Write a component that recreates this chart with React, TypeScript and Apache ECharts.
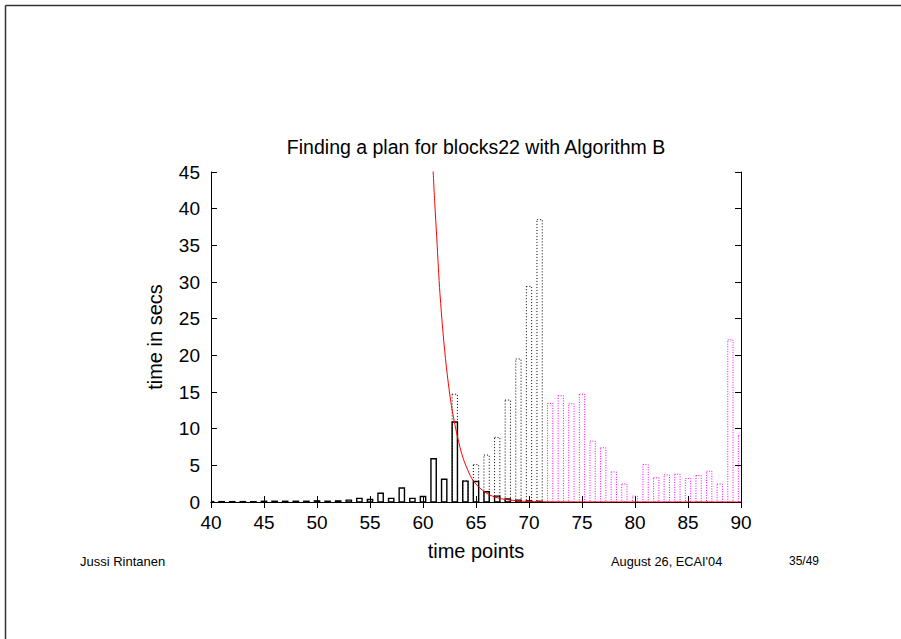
import React, { useEffect, useRef } from "react";
import * as echarts from "echarts";

const titleText = "Finding a plan for blocks22 with Algorithm B";
const xAxisName = "time points";
const yAxisName = "time in secs";
const footerLeft = "Jussi Rintanen";
const footerMid = "August 26, ECAI'04";
const footerRight = "35/49";

// solid black boxes (time points 40..71)
const solidX = [40, 41, 42, 43, 44, 45, 46, 47, 48, 49, 50, 51, 52, 53, 54, 55, 56, 57, 58, 59, 60, 61, 62, 63, 64, 65, 66, 67, 68, 69, 70, 71];
const solidY = [0.05, 0.05, 0.05, 0.05, 0.05, 0.1, 0.1, 0.1, 0.1, 0.1, 0.15, 0.1, 0.15, 0.25, 0.5, 0.35, 1.2, 0.5, 1.9, 0.5, 0.75, 5.9, 3.1, 10.9, 2.85, 2.8, 1.4, 0.8, 0.4, 0.25, 0.15, 0.1];

// dotted black boxes (63..71)
const dottedX = [63, 64, 65, 66, 67, 68, 69, 70, 71];
const dottedY = [14.7, 2.9, 5.1, 6.4, 8.8, 13.9, 19.5, 29.4, 38.5];

// dotted magenta boxes (72..90)
const magentaX = [72, 73, 74, 75, 76, 77, 78, 79, 80, 81, 82, 83, 84, 85, 86, 87, 88, 89, 90];
const magentaY = [13.45, 14.5, 13.4, 14.7, 8.3, 7.4, 4.1, 2.45, 0.8, 5.1, 3.3, 3.7, 3.8, 3.2, 3.6, 4.2, 2.45, 22.1, 9.1];

// red curve, points
const curveX = [60.9, 61.1, 61.3, 61.45, 61.6, 61.9, 62.2, 62.6, 63, 63.5, 63.9, 64.3, 64.6, 65, 65.6, 66.3, 67.3, 68, 69, 70, 72, 80, 90];
const curveY = [46.8, 41, 36, 32, 28.4, 22.9, 18.5, 13.9, 10.6, 7.4, 5.5, 4.1, 3.2, 2.45, 1.6, 0.95, 0.47, 0.3, 0.14, 0.07, 0.02, 0, 0];

const HALF_W = 0.25;

function boxSeries(xs: number[], ys: number[], stroke: string, lineDash: number[] | null, lineWidth: number, z: number) {
  return {
    type: "custom",
    xAxisIndex: 0,
    yAxisIndex: 0,
    clip: true,
    z,
    encode: { x: 0, y: 1 },
    data: xs.map((x, i) => [x, ys[i]]),
    renderItem: (params: any, api: any) => {
      const x = api.value(0);
      const y = api.value(1);
      const p0 = api.coord([x - HALF_W, y]);
      const p1 = api.coord([x + HALF_W, 0]);
      return {
        type: "rect",
        shape: { x: p0[0], y: p0[1], width: p1[0] - p0[0], height: p1[1] - p0[1] },
        style: {
          fill: "none",
          stroke,
          lineWidth,
          lineDash: lineDash || undefined,
        },
      };
    },
  };
}

export default function App() {
  const ref = useRef<HTMLDivElement>(null);
  useEffect(() => {
    if (!ref.current) return;
    const chart = echarts.init(ref.current, null, { renderer: "svg" });
    const font = "'Liberation Sans', Arial, Helvetica, sans-serif";
    const axisCommon = {
      axisLine: { show: true, lineStyle: { color: "#000", width: 1 } },
      axisTick: { show: true, inside: true, length: 6, lineStyle: { color: "#000", width: 1 } },
      splitLine: { show: false },
    };
    chart.setOption({
      animation: false,
      backgroundColor: "#fff",
      textStyle: { fontFamily: font },
      grid: {
        left: 211,
        right: 160,
        top: 172,
        bottom: 137,
        containLabel: false,
        outerBoundsMode: "none",
      },
      xAxis: [
        {
          type: "value",
          min: 40,
          max: 90,
          interval: 5,
          position: "bottom",
          ...axisCommon,
          axisLabel: { color: "#000", fontSize: 19, fontFamily: font, margin: 11 },
          name: xAxisName,
          nameLocation: "middle",
          nameGap: 39,
          nameTextStyle: { color: "#000", fontSize: 20, fontFamily: font },
        },
        {
          type: "value",
          min: 40,
          max: 90,
          interval: 5,
          position: "top",
          ...axisCommon,
          axisLabel: { show: false },
        },
      ],
      yAxis: [
        {
          type: "value",
          min: 0,
          max: 45,
          interval: 5,
          position: "left",
          ...axisCommon,
          axisLabel: { color: "#000", fontSize: 19, fontFamily: font, margin: 11 },
          name: yAxisName,
          nameLocation: "middle",
          nameRotate: 90,
          nameGap: 46,
          nameTextStyle: { color: "#000", fontSize: 20, fontFamily: font },
        },
        {
          type: "value",
          min: 0,
          max: 45,
          interval: 5,
          position: "right",
          ...axisCommon,
          axisLabel: { show: false },
        },
      ],
      series: [
        boxSeries(solidX, solidY, "#000", null, 1.4, 3),
        boxSeries(dottedX, dottedY, "#000", [1, 2], 1, 2),
        boxSeries(magentaX, magentaY, "#ff00ff", [1, 1.5], 1, 2),
        {
          type: "line",
          xAxisIndex: 0,
          yAxisIndex: 0,
          data: curveX.map((x, i) => [x, curveY[i]]),
          showSymbol: false,
          symbol: "none",
          smooth: 0.3,
          clip: true,
          z: 5,
          lineStyle: { color: "#ff0000", width: 1 },
        },
      ],
      graphic: [
        { type: "line", shape: { x1: 5.5, y1: 5.5, x2: 901, y2: 5.5 }, style: { stroke: "#333", lineWidth: 1.5 } },
        { type: "line", shape: { x1: 5.5, y1: 5.5, x2: 5.5, y2: 639 }, style: { stroke: "#333", lineWidth: 1.5 } },
        {
          type: "text",
          x: 476,
          y: 147,
          style: { text: titleText, fill: "#000", font: `19.5px ${font}`, textAlign: "center", textVerticalAlign: "middle" },
        },
        {
          type: "text",
          x: 80,
          y: 561,
          style: { text: footerLeft, fill: "#000", font: `13px ${font}`, textAlign: "left", textVerticalAlign: "middle" },
        },
        {
          type: "text",
          x: 611,
          y: 561,
          style: { text: footerMid, fill: "#000", font: `12.8px ${font}`, textAlign: "left", textVerticalAlign: "middle" },
        },
        {
          type: "text",
          x: 789,
          y: 561,
          style: { text: footerRight, fill: "#000", font: `12px ${font}`, textAlign: "left", textVerticalAlign: "middle" },
        },
      ],
    });
    return () => chart.dispose();
  }, []);
  return <div ref={ref} style={{ position: "fixed", left: 0, top: 0, width: 901, height: 639 }} />;
}
